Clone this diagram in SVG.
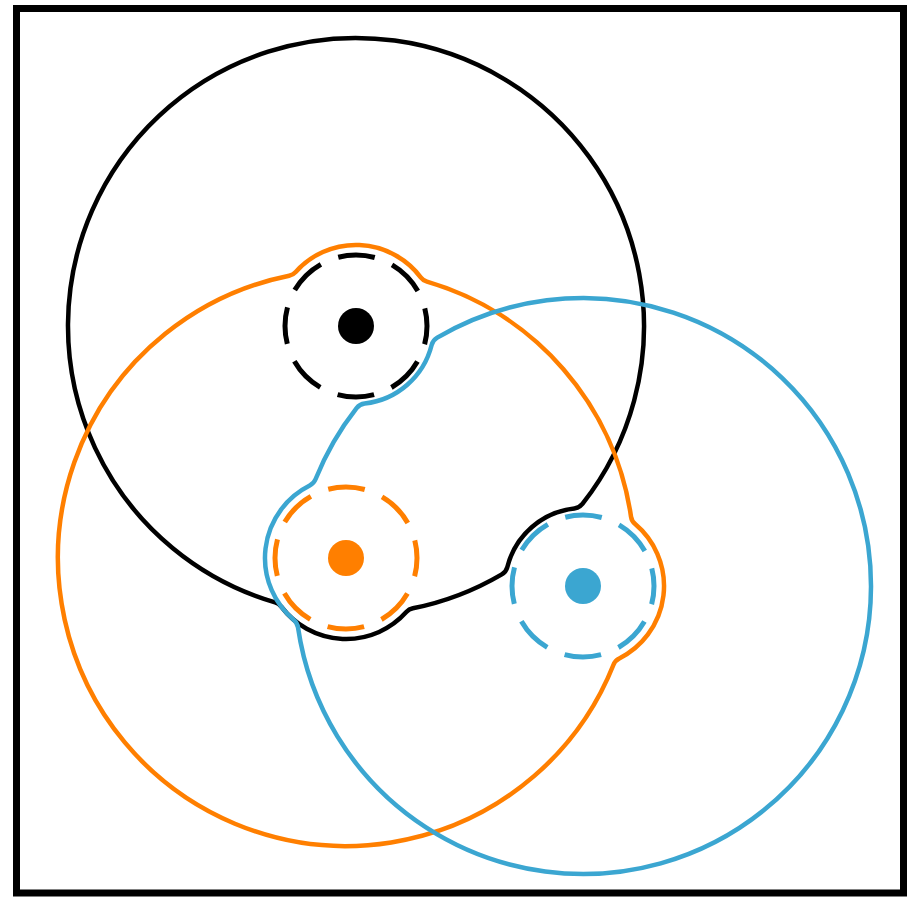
<svg xmlns="http://www.w3.org/2000/svg" width="910" height="897" viewBox="0 0 910 897">
<style>
.ln{fill:none;stroke-width:4.5;stroke-linejoin:round}
.ds{fill:none;stroke-width:5;stroke-dasharray:37 18.76;stroke-dashoffset:18.5}
.k{stroke:#000}
.o{stroke:#ff7f00}
.b{stroke:#3ba6d1}
</style>
<rect x="0" y="0" width="910" height="897" fill="#fff"/>
<rect x="16.5" y="8.5" width="887" height="884.5" fill="#fff" stroke="#000" stroke-width="7"/>
<g id="black">
<path class="ln k" d="M 582.43 503.95 A 12 12 0 0 1 574.33 508.47 A 78 78 0 0 0 507.36 566.95 A 12 12 0 0 1 501.79 574.37 A 288 288 0 0 1 412.87 608.33 A 12 12 0 0 0 406.31 612.08 A 81 81 0 0 1 281.27 606.70 A 12 12 0 0 0 275.05 602.39 A 288 288 0 1 1 582.43 503.95 Z"/>
<circle class="ds k" cx="356" cy="326" r="71"/>
<circle cx="356" cy="326" r="18" fill="#000"/>
</g>
<g id="orange">
<path class="ln o" d="M 289.13 275.67 A 12 12 0 0 0 295.69 271.92 A 81 81 0 0 1 420.73 277.30 A 12 12 0 0 0 426.95 281.61 A 288 288 0 0 1 631.00 516.56 A 12 12 0 0 0 635.15 524.01 A 81 81 0 0 1 619.27 658.44 A 12 12 0 0 0 613.49 664.72 A 288 288 0 1 1 289.13 275.67 Z"/>
<circle class="ds o" cx="346" cy="558" r="71"/>
<circle cx="346" cy="558" r="18" fill="#ff7f00"/>
</g>
<g id="blue">
<path class="ln b" d="M 298.00 627.44 A 12 12 0 0 0 293.85 619.99 A 81 81 0 0 1 309.73 485.56 A 12 12 0 0 0 315.51 479.28 A 288 288 0 0 1 356.57 408.05 A 12 12 0 0 1 364.67 403.53 A 78 78 0 0 0 431.64 345.05 A 12 12 0 0 1 437.21 337.63 A 288 288 0 1 1 298.00 627.44 Z"/>
<circle class="ds b" cx="583" cy="586" r="71"/>
<circle cx="583" cy="586" r="18" fill="#3ba6d1"/>
</g>
<g id="connectors"></g>
</svg>
